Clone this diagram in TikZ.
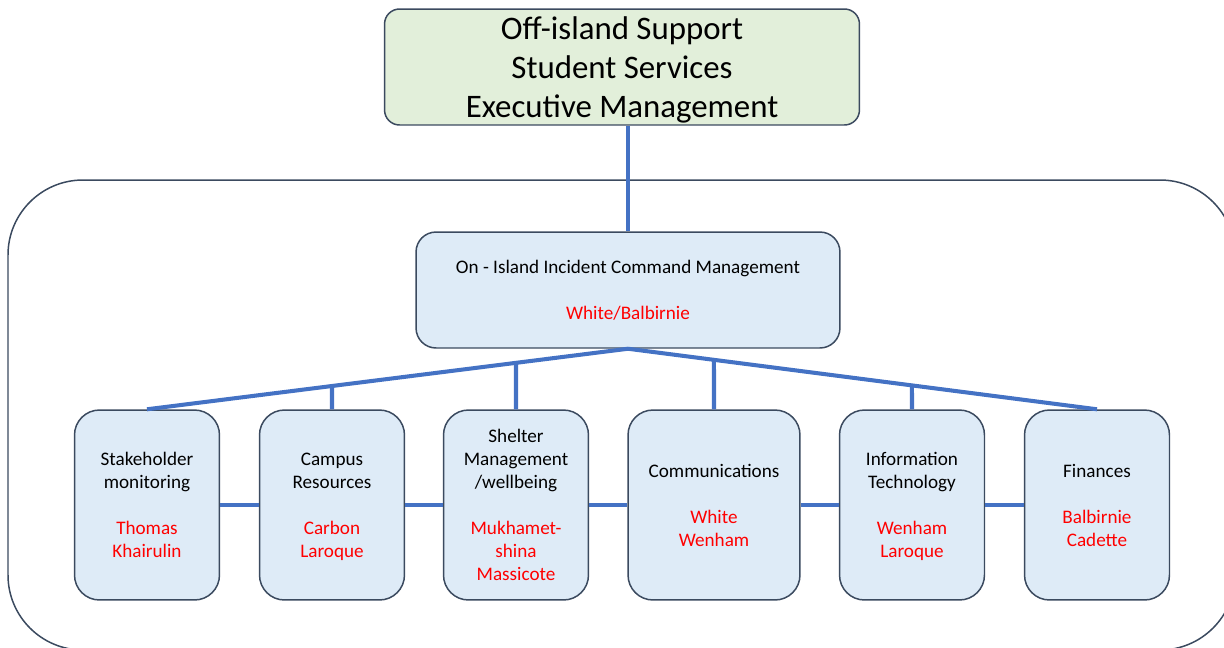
\documentclass[tikz,border=0pt]{standalone}
\usepackage{fontspec}
\setmainfont{Carlito}
\usepackage{tikz}

\definecolor{linkblue}{HTML}{4472C4}
\definecolor{boxedge}{HTML}{3B4A5F}
\definecolor{execgreen}{HTML}{E2EFDA}
\definecolor{teamblue}{HTML}{DEEBF7}
\definecolor{namered}{HTML}{FF0000}

\newcommand{\who}[1]{\textcolor{namered}{#1}}

\tikzset{
	execbox/.style={draw=boxedge, line width=0.85pt, fill=execgreen, rounded corners=0.3cm,
		minimum width=9.5cm, minimum height=2.32cm, align=center, text depth=0pt,
		font=\fontsize{18.7}{22.4}\selectfont},
	cmdbox/.style={draw=boxedge, line width=0.85pt, fill=teamblue, rounded corners=0.4cm,
		minimum width=8.48cm, minimum height=2.32cm, align=center, text depth=0pt,
		font=\fontsize{10.9}{13.1}\selectfont},
	teambox/.style={draw=boxedge, line width=0.85pt, fill=teamblue, rounded corners=0.5cm,
		minimum width=2.9cm, minimum height=3.8cm, align=center, text depth=0pt,
		font=\fontsize{10.9}{13.1}\selectfont},
	link/.style={draw=linkblue, line width=2.3pt}
}

\begin{document}
\begin{tikzpicture}[x=0.02cm, y=-0.02cm]
	\clip (0,0) rectangle (1224,647);

	%On-island frame
	\draw [draw=boxedge, line width=0.85pt, rounded corners=1.5cm] (8,180) rectangle (1235,650);

	%Executive box
	\node [execbox] (exec) at (622,67) {Off-island Support\\Student Services\\Executive Management};

	%Incident command
	\node [cmdbox] (cmd) at (628,290) {On - Island Incident Command Management\\[13.1pt]\who{White/Balbirnie}};

	%Teams
	\node [teambox] (stake) at (147,505) {Stakeholder\\monitoring\\[13.1pt]\who{Thomas}\\\who{Khairulin}};
	\node [teambox] (campus) at (332,505) {Campus\\Resources\\[13.1pt]\who{Carbon}\\\who{Laroque}};
	\node [teambox] (shelter) at (516,505) {Shelter\\Management\\/wellbeing\\[13.1pt]\who{Mukhamet-}\\\who{shina}\\\who{Massicote}};
	\node [teambox, minimum width=3.44cm] (comms) at (714,505) {Communications\\[13.1pt]\who{White}\\\who{Wenham}};
	\node [teambox] (infotech) at (912,505) {Information\\Technology\\[13.1pt]\who{Wenham}\\\who{Laroque}};
	\node [teambox] (fin) at (1097,505) {Finances\\[13.1pt]\who{Balbirnie}\\\who{Cadette}};

	%Command links
	\draw [link] (cmd.north) -- (cmd.north |- exec.south);
	\draw [link] (cmd.south) -- (stake.north);
	\draw [link] (cmd.south) -- (fin.north);
	\draw [link] (campus.north) -- (intersection of cmd.south--stake.north and campus.north--campus.south);
	\draw [link] (shelter.north) -- (intersection of cmd.south--stake.north and shelter.north--shelter.south);
	\draw [link] (comms.north) -- (intersection of cmd.south--fin.north and comms.north--comms.south);
	\draw [link] (infotech.north) -- (intersection of cmd.south--fin.north and infotech.north--infotech.south);

	%Side links
	\draw [link] (stake.east) -- (campus.west);
	\draw [link] (campus.east) -- (shelter.west);
	\draw [link] (shelter.east) -- (comms.west);
	\draw [link] (comms.east) -- (infotech.west);
	\draw [link] (infotech.east) -- (fin.west);
\end{tikzpicture}
\end{document}
